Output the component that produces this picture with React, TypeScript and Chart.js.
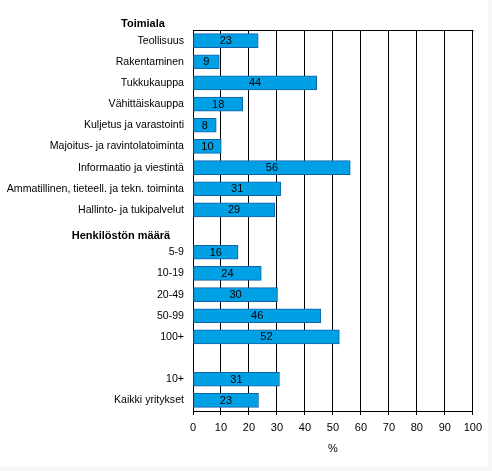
import { useEffect, useRef } from "react"
import { Chart, registerables } from "chart.js"

Chart.register(...registerables)

// rows of the chart, "" = empty row used for a group header / spacing
const categories = [
  "Teollisuus",
  "Rakentaminen",
  "Tukkukauppa",
  "Vähittäiskauppa",
  "Kuljetus ja varastointi",
  "Majoitus- ja ravintolatoiminta",
  "Informaatio ja viestintä",
  "Ammatillinen, tieteell. ja tekn. toiminta",
  "Hallinto- ja tukipalvelut",
  "",
  "5-9",
  "10-19",
  "20-49",
  "50-99",
  "100+",
  "",
  "10+",
  "Kaikki yritykset",
]

const values = [
  23.3, 9.4, 44.2, 17.8, 8.3, 10.1, 56.2, 31.4, 29.2, null,
  16.1, 24.4, 30.2, 45.7, 52.3, null, 30.9, 23.4,
]

const groupHeaders = ["Toimiala", "Henkilöstön määrä"]
const groupHeaderRows = [-1, 9]

const FONT = "'Liberation Sans', Arial, sans-serif"

const headerX = [143, 121]

const decorPlugin = {
  id: "decor",
  afterDatasetsDraw(chart: any) {
    const { ctx, chartArea } = chart
    const meta = chart.getDatasetMeta(0)
    const yScale = chart.scales.y
    ctx.save()

    // value labels in the middle of each bar
    ctx.font = `11px ${FONT}`
    ctx.fillStyle = "#000"
    ctx.textAlign = "center"
    ctx.textBaseline = "middle"
    meta.data.forEach((bar: any, i: number) => {
      const v = values[i]
      if (v == null) return
      ctx.fillText(String(Math.round(v)), (bar.base + bar.x) / 2, bar.y + 0.5)
    })

    // frame top line
    ctx.strokeStyle = "#000"
    ctx.lineWidth = 1
    ctx.beginPath()
    ctx.moveTo(Math.round(chartArea.left) + 0.5, Math.round(chartArea.top) + 0.5)
    ctx.lineTo(Math.round(chartArea.right) + 0.5, Math.round(chartArea.top) + 0.5)
    ctx.stroke()

    // group headers
    const step = yScale.getPixelForValue(1) - yScale.getPixelForValue(0)
    ctx.font = `bold 11px ${FONT}`
    groupHeaders.forEach((h, i) => {
      const y = yScale.getPixelForValue(0) + groupHeaderRows[i] * step + 4.5
      ctx.fillText(h, headerX[i], y)
    })

    // axis unit
    ctx.font = `11px ${FONT}`
    ctx.fillText("%", (chartArea.left + chartArea.right) / 2, chartArea.bottom + 38)
    ctx.restore()
  },
}

export default function App() {
  const chartRef = useRef<HTMLCanvasElement>(null)
  const chartInstance = useRef<Chart | null>(null)

  useEffect(() => {
    if (!chartRef.current) return
    document.body.style.margin = "0"

    if (chartInstance.current) {
      chartInstance.current.destroy()
    }

    const ctx = chartRef.current.getContext("2d")
    if (ctx) {
      chartInstance.current = new Chart(ctx, {
        type: "bar",
        data: {
          labels: categories,
          datasets: [
            {
              label: "%",
              data: values,
              backgroundColor: "#00a0e4",
              borderColor: "#1462a8",
              borderWidth: 1,
              borderSkipped: false,
              barThickness: 14,
            },
          ],
        },
        options: {
          indexAxis: "y",
          responsive: true,
          maintainAspectRatio: false,
          animation: false,
          layout: { padding: { top: 30, right: 12, left: 0, bottom: 0 } },
          scales: {
            x: {
              min: 0,
              max: 100,
              ticks: {
                stepSize: 10,
                color: "#000",
                padding: 6,
                font: { family: FONT, size: 11 },
              },
              grid: {
                color: "#000",
                lineWidth: 1,
                tickLength: 4,
                drawTicks: true,
              },
              border: { display: true, color: "#000" },
              afterFit: (scale: any) => {
                scale.height = 56
              },
            },
            y: {
              ticks: {
                color: "#000",
                padding: 9,
                autoSkip: false,
                font: { family: FONT, size: 10.6 },
              },
              grid: { display: false, drawTicks: false },
              border: { display: true, color: "#000" },
              afterFit: (scale: any) => {
                scale.width = 193
              },
            },
          },
          plugins: {
            legend: { display: false },
            tooltip: { enabled: false },
          },
        },
        plugins: [decorPlugin],
      })
    }

    return () => {
      if (chartInstance.current) {
        chartInstance.current.destroy()
        chartInstance.current = null
      }
    }
  }, [])

  return (
    <div style={{ width: 492, height: 471, background: "#f6f6f6", position: "relative" }}>
      <div style={{ width: 488, height: 467, background: "#fff", position: "absolute", left: 0, top: 0 }}>
        <canvas ref={chartRef} />
      </div>
    </div>
  )
}
